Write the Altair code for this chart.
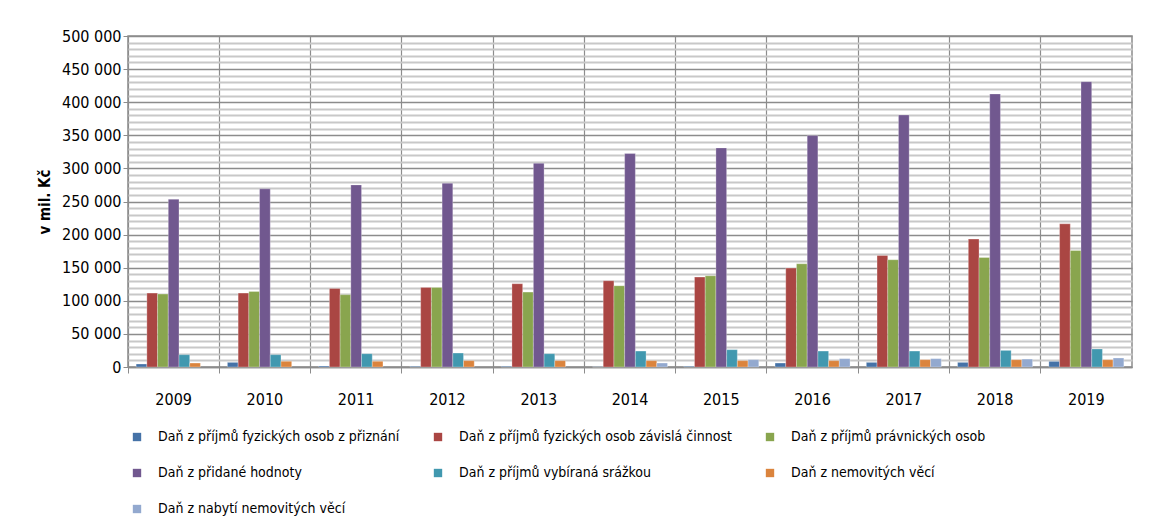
import altair as alt
import pandas as pd

years = ["2009", "2010", "2011", "2012", "2013", "2014", "2015", "2016", "2017", "2018", "2019"]

series_names = [
    "Daň z příjmů fyzických osob z přiznání",
    "Daň z příjmů fyzických osob závislá činnost",
    "Daň z příjmů právnických osob",
    "Daň z přidané hodnoty",
    "Daň z příjmů vybíraná srážkou",
    "Daň z nemovitých věcí",
    "Daň z nabytí nemovitých věcí",
]

pfo_priznani = [4500, 7000, 1500, 1000, 1000, 300, 1000, 6000, 7000, 7000, 8500]
pfo_zavisla = [111700, 111700, 118700, 120200, 125800, 130300, 135800, 149400, 168500, 193200, 216300]
ppo = [110200, 114200, 109200, 120200, 113200, 122700, 137800, 155900, 162000, 165400, 176000]
dph = [253500, 269100, 275100, 277700, 307800, 322400, 331000, 349600, 380800, 412500, 431000]
srazkou = [18600, 18600, 20100, 21100, 20100, 24100, 26200, 24100, 24100, 25100, 27200]
nemovitosti = [6000, 8600, 8600, 9600, 9600, 9600, 9600, 9600, 11100, 11000, 11000]
nabyti = [None, None, None, None, None, 6000, 11100, 12600, 12600, 12000, 13600]

colors = ["#4572A7", "#AA4643", "#89A54E", "#71588F", "#4198AF", "#DB843D", "#93A9CF"]

y_tick_values = list(range(0, 500001, 10000))

# order of legend entries so that the 3-column legend reads row by row
legend_order = [0, 3, 5, 1, 4, 6, 2]
legend_domain = [series_names[i] for i in legend_order]
legend_range = [colors[i] for i in legend_order]

all_series = [pfo_priznani, pfo_zavisla, ppo, dph, srazkou, nemovitosti, nabyti]
rows = []
for name, vals in zip(series_names, all_series):
    for yr, v in zip(years, vals):
        if v is not None:
            rows.append({"rok": yr, "dan": name, "hodnota": v})
df = pd.DataFrame(rows)

FONT = "Liberation Sans Narrow, Arial Narrow, DejaVu Sans Condensed, sans-serif"
W = 1004
H = 331

chart = alt.Chart(df).mark_bar(stroke="#ffffff", strokeOpacity=0.35, strokeWidth=0.8).encode(
    x=alt.X(
        "rok:N",
        sort=years,
        scale=alt.Scale(paddingInner=0, paddingOuter=0),
        axis=alt.Axis(
            title=None,
            bandPosition=0,
            labelAngle=0,
            grid=True,
            gridColor="#8c8c8c",
            gridWidth=1.2,
            tickColor="#8c8c8c",
            tickSize=6,
            domainColor="#8c8c8c",
            domainWidth=1.5,
            labelPadding=18,
            labelFontSize=16,
            labelColor="#000000",
        ),
    ),
    xOffset=alt.XOffset(
        "dan:N",
        sort=series_names,
        scale=alt.Scale(domain=series_names, paddingInner=0, paddingOuter=0.76),
    ),
    y=alt.Y(
        "hodnota:Q",
        scale=alt.Scale(domain=[0, 500000], nice=False),
        axis=alt.Axis(
            title="v mil. Kč",
            titleFontWeight="bold",
            titleFontSize=15,
            titleColor="#000000",
            titlePadding=9,
            values=y_tick_values,
            labelExpr="datum.value % 50000 === 0 ? replace(format(datum.value, ',d'), ',', ' ') : ''",
            labelFontSize=16,
            labelColor="#000000",
            labelPadding=2,
            tickSize=5,
            tickColor="#8c8c8c",
            tickOpacity={"condition": {"test": "datum.value % 50000 === 0", "value": 1}, "value": 0},
            grid=True,
            gridColor={"condition": {"test": "datum.value % 50000 === 0", "value": "#8c8c8c"}, "value": "#c8c8c8"},
            gridWidth={"condition": {"test": "datum.value % 50000 === 0", "value": 1.4}, "value": 1.8},
            domain=False,
        ),
    ),
    color=alt.Color(
        "dan:N",
        scale=alt.Scale(domain=legend_domain, range=legend_range),
        legend=alt.Legend(
            title=None,
            orient="none",
            legendX=2,
            legendY=394,
            columns=3,
            columnPadding=31,
            rowPadding=22,
            symbolType="square",
            symbolSize=70,
            symbolStrokeWidth=0,
            labelFontSize=14,
            labelColor="#000000",
            labelLimit=400,
            labelOffset=14,
        ),
    ),
).properties(
    width=W,
    height=H,
    autosize=alt.AutoSizeParams(type="none"),
    padding={"left": 120, "top": 28, "right": 25, "bottom": 150},
).configure(
    font=FONT,
).configure_view(
    stroke="#8c8c8c",
    strokeWidth=1.5,
).configure_axis(
    labelFont=FONT,
    titleFont=FONT,
).configure_legend(
    labelFont=FONT,
)

chart.save("out.html", embed_options={"renderer": "svg", "actions": False})
